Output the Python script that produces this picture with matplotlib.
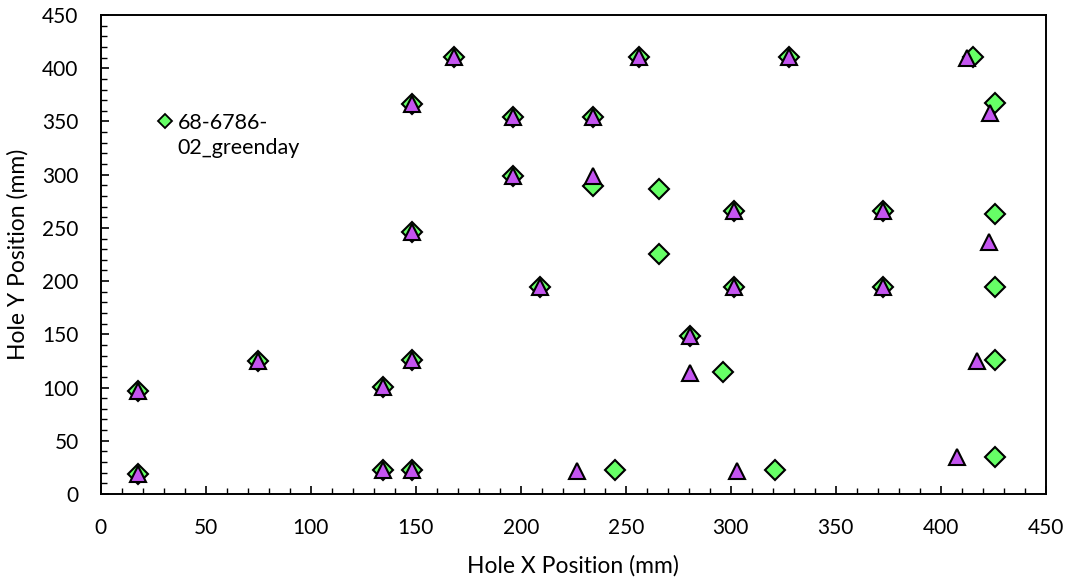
import matplotlib.pyplot as plt
from matplotlib.ticker import MultipleLocator

plt.rcParams['font.family'] = ['Lato', 'DejaVu Sans']

# hole positions (mm), greenday layout
green_x = [17.6, 17.6, 75, 134.3, 134.3, 148.3, 148.3, 148.3, 148.3, 168.2,
           196.3, 196.3, 209.1, 234.2, 234.2, 256.4, 266, 266, 244.7, 280.6,
           296.4, 301.5, 301.5, 321, 327.7, 372.6, 372.6, 415.2, 425.9, 425.9,
           425.8, 425.8, 425.8]
green_y = [96.5, 19, 125, 100.8, 22.5, 125.9, 22.5, 246.5, 366.4, 410.2,
           354.5, 298.8, 194.8, 354.5, 289.5, 410.2, 286.5, 225.5, 22.5, 148.4,
           114.6, 266.2, 194.8, 22.5, 410.2, 266.2, 194.8, 410.9, 367, 262.8,
           194.2, 125.9, 35]

# measured positions, second set
purple_x = [17.6, 17.6, 75, 134.3, 134.3, 148.3, 148.3, 148.3, 148.3, 168.2,
            196.3, 196.3, 209.1, 234.2, 234.2, 256.4, 226.6, 280.6, 280.6,
            301.5, 301.5, 303.1, 327.7, 372.6, 372.6, 412.3, 423.4, 423.1,
            417.4, 407.9]
purple_y = [96.5, 19, 125, 100.8, 22.5, 125.9, 22.5, 246.5, 366.4, 410.2,
            354.5, 298.8, 194.8, 354.5, 299, 410.2, 21.9, 148.4, 114,
            266.2, 194.8, 21.9, 410.2, 266.2, 194.8, 409.3, 357.7, 237,
            125, 35]

green = '#66FF66'
purple = '#C455F0'

fig = plt.figure(figsize=(10.69, 5.82), dpi=100)
ax = fig.add_axes([0.0943, 0.1512, 0.8840, 0.8230])

ax.plot(green_x, green_y, 'D', ms=10.5, mfc=green, mec='black', mew=1.5,
        linestyle='none')
ax.plot(purple_x, purple_y, '^', ms=11, mfc=purple, mec='black', mew=1.5,
        linestyle='none')

ax.set_xlim(0, 450)
ax.set_ylim(0, 450)
ax.xaxis.set_major_locator(MultipleLocator(50))
ax.xaxis.set_minor_locator(MultipleLocator(10))
ax.yaxis.set_major_locator(MultipleLocator(50))
ax.yaxis.set_minor_locator(MultipleLocator(10))
ax.tick_params(which='major', direction='in', length=6, width=1.2,
               labelsize=15)
ax.tick_params(which='minor', direction='in', length=4, width=1.0)
ax.tick_params(axis='x', which='major', pad=17)
ax.tick_params(axis='y', which='major', pad=16)
for side in ax.spines.values():
    side.set_linewidth(1.4)

ax.set_xlabel('Hole X Position (mm)', fontsize=16.5, va='center')
ax.set_ylabel('Hole Y Position (mm)', fontsize=16.5, va='center')
ax.xaxis.set_label_coords(0.5, -0.150)
ax.yaxis.set_label_coords(-0.0876, 0.5)

# legend entry for the greenday series only
ax.plot([0.068], [0.779], 'D', ms=7.5, mfc=green, mec='black', mew=1.3,
        transform=ax.transAxes, clip_on=False)
ax.text(0.0815, 0.749, '68-6786-\n02_greenday', transform=ax.transAxes,
        fontsize=15.5, va='center', ha='left', linespacing=1.3)

fig.savefig('out.png', dpi=100)
